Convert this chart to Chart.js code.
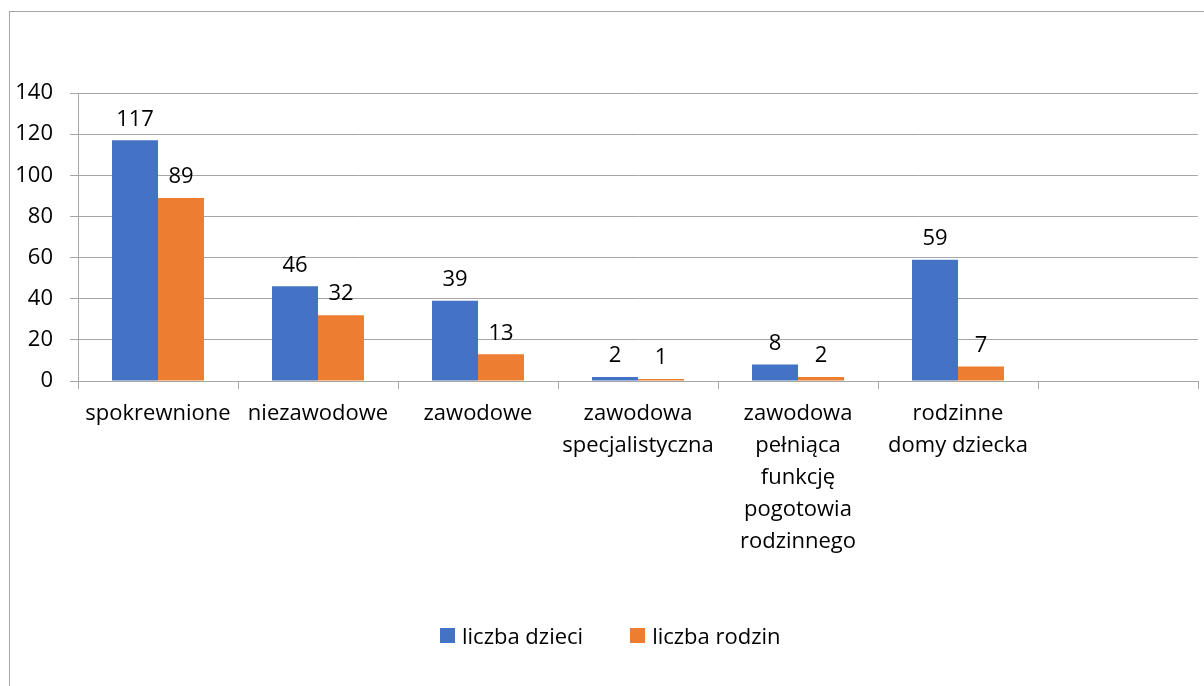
<!DOCTYPE html>
<html>
<head>
<meta charset="utf-8">
<script src="https://cdn.jsdelivr.net/npm/chart.js@4.4.0/dist/chart.umd.min.js"></script>
<style>
  html, body { margin: 0; padding: 0; background: #fff; }
  body { width: 1204px; height: 686px; position: relative; overflow: hidden; font-family: 'Open Sans', 'Noto Sans', sans-serif; }
  #frame { position: absolute; left: 9px; top: 11px; width: 1300px; height: 800px; border: 1px solid #a6a6a6; box-sizing: border-box; }
  #wrap { position: absolute; left: 0; top: 0; width: 1204px; height: 686px; }
  #legend { position: absolute; top: 620px; left: 440px; height: 30px; display: flex; align-items: center; font-size: 22px; color: #000; }
  #legend .item { display: flex; align-items: center; }
  #legend .box { width: 15px; height: 15px; margin-right: 7px; }
</style>
</head>
<body>
<div id="frame"></div>
<div id="wrap"><canvas id="chart"></canvas></div>
<div id="legend"></div>
<script>
// dane wykresu
const categories = [
    'spokrewnione',
    'niezawodowe',
    'zawodowe',
    ['zawodowa', 'specjalistyczna'],
    ['zawodowa', 'pełniąca', 'funkcję', 'pogotowia', 'rodzinnego'],
    ['rodzinne', 'domy dziecka'],
    ''
];
const seriesNames = ['liczba dzieci', 'liczba rodzin'];
const liczbaDzieci = [117, 46, 39, 2, 8, 59, null];
const liczbaRodzin = [89, 32, 13, 1, 2, 7, null];
const yTicks = [0, 20, 40, 60, 80, 100, 120, 140];
const colors = ['#4472C4', '#ED7D31'];

const fontFamily = "'Open Sans', 'Noto Sans', sans-serif";

// etykiety wartości nad słupkami
const valueLabels = {
    id: 'valueLabels',
    afterDatasetsDraw(chart) {
        const ctx = chart.ctx;
        ctx.save();
        ctx.font = '22px ' + fontFamily;
        ctx.fillStyle = '#000';
        ctx.textAlign = 'center';
        ctx.textBaseline = 'bottom';
        chart.data.datasets.forEach((ds, i) => {
            const meta = chart.getDatasetMeta(i);
            meta.data.forEach((bar, j) => {
                const v = ds.data[j];
                if (v == null) return;
                ctx.fillText(String(v), bar.x, bar.y - 10);
            });
        });
        ctx.restore();
    }
};

const ctx = document.getElementById('chart').getContext('2d');
const chart = new Chart(ctx, {
    type: 'bar',
    data: {
        labels: categories,
        datasets: [
            { label: seriesNames[0], data: liczbaDzieci, backgroundColor: colors[0] },
            { label: seriesNames[1], data: liczbaRodzin, backgroundColor: colors[1] }
        ]
    },
    options: {
        responsive: true,
        maintainAspectRatio: false,
        animation: false,
        layout: { padding: { left: 8, top: 93, right: 6, bottom: 71 } },
        datasets: { bar: { categoryPercentage: 0.575, barPercentage: 1.0 } },
        plugins: {
            legend: { display: false },
            tooltip: { enabled: false }
        },
        scales: {
            x: {
                grid: { offset: true, drawOnChartArea: false, drawTicks: true, tickLength: 8, color: '#a6a6a6' },
                border: { color: '#a6a6a6' },
                ticks: {
                    color: '#000', padding: 9, maxRotation: 0, autoSkip: false,
                    font: { family: fontFamily, size: 22, lineHeight: 1.45 }
                },
                afterFit(scale) { scale.height = 234; }
            },
            y: {
                min: 0, max: 140,
                afterBuildTicks(scale) { scale.ticks = yTicks.map(v => ({ value: v })); },
                grid: { color: '#a6a6a6', tickLength: 8 },
                border: { color: '#a6a6a6' },
                ticks: {
                    color: '#000', padding: 17,
                    font: { family: fontFamily, size: 22 }
                },
                afterFit(scale) { scale.width = 70; }
            }
        }
    },
    plugins: [valueLabels]
});

// legenda
const legendEl = document.getElementById('legend');
chart.data.datasets.forEach((ds, i) => {
    const item = document.createElement('div');
    item.className = 'item';
    if (i > 0) item.style.marginLeft = '47px';
    item.innerHTML = `<span class="box" style="background:${ds.backgroundColor}"></span>${ds.label}`;
    legendEl.appendChild(item);
});
</script>
</body>
</html>
